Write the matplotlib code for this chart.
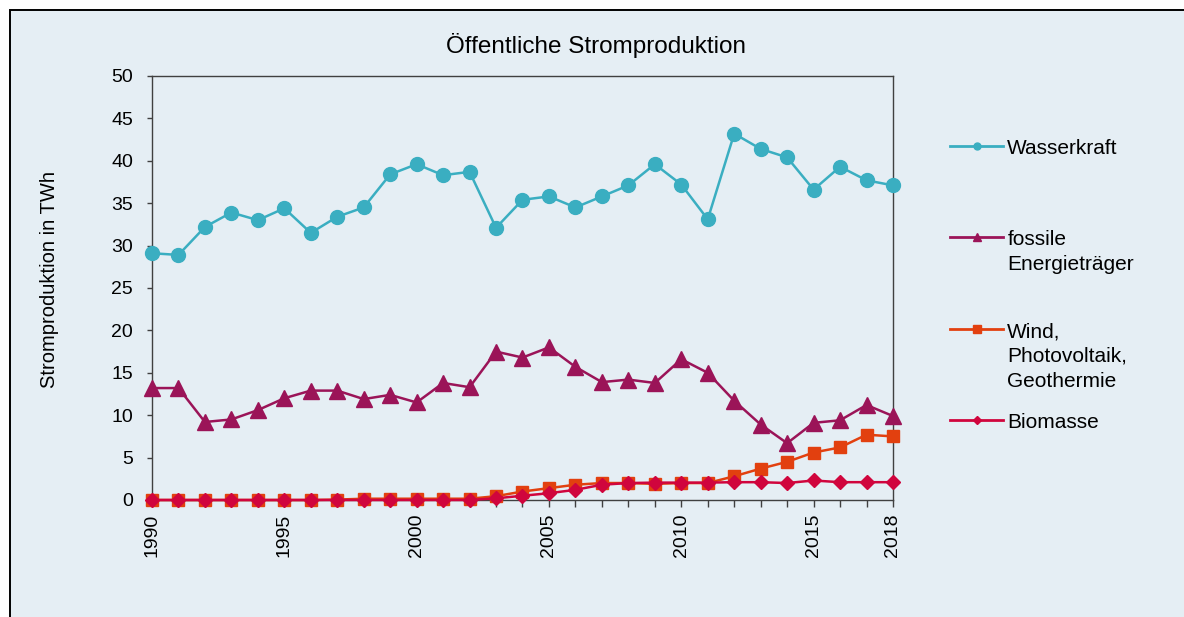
import matplotlib
matplotlib.use("Agg")
import matplotlib.pyplot as plt
from matplotlib.lines import Line2D
from matplotlib.patches import Rectangle

plt.rcParams['font.family'] = ['Liberation Sans', 'DejaVu Sans']

years = list(range(1990, 2019))
wasserkraft = [29.1, 28.9, 32.2, 33.9, 33.0, 34.4, 31.5, 33.4, 34.5, 38.4,
               39.6, 38.3, 38.7, 32.1, 35.4, 35.8, 34.5, 35.8, 37.1, 39.6,
               37.2, 33.1, 43.2, 41.4, 40.4, 36.6, 39.3, 37.7, 37.1]
fossil = [13.2, 13.2, 9.2, 9.5, 10.6, 12.0, 12.9, 12.9, 11.9, 12.4,
          11.5, 13.8, 13.3, 17.5, 16.8, 18.0, 15.7, 13.9, 14.2, 13.8,
          16.6, 15.0, 11.7, 8.9, 6.7, 9.1, 9.4, 11.2, 9.9]
wind = [0.0, 0.0, 0.0, 0.0, 0.0, 0.0, 0.0, 0.05, 0.15, 0.15,
        0.15, 0.15, 0.15, 0.45, 1.0, 1.4, 1.8, 2.0, 2.0, 1.9,
        2.0, 2.0, 2.8, 3.7, 4.5, 5.6, 6.2, 7.7, 7.5]
biomasse = [0.0, 0.0, 0.0, 0.0, 0.0, 0.0, 0.0, 0.0, 0.0, 0.0,
            0.0, 0.0, 0.0, 0.2, 0.5, 0.8, 1.2, 1.8, 2.0, 2.05,
            2.05, 2.05, 2.1, 2.1, 2.0, 2.3, 2.1, 2.1, 2.1]

labels = ['Wasserkraft', 'fossile\nEnergieträger',
          'Wind,\nPhotovoltaik,\nGeothermie', 'Biomasse']
colors = ['#3aaec1', '#9b1458', '#e2400f', '#d0053d']
markers = ['o', '^', 's', 'D']
sizes = [10, 11.5, 9, 6.8]
leg_sizes = [5, 6, 6, 4]
leg_tops = [139, 230, 322, 413]

bg = '#e5eef4'
fig = plt.figure(figsize=(11.84, 6.17), dpi=100, facecolor='white')
fig.patches.append(Rectangle((10 / 1184, -0.05), 1.1, 1.05 - 10 / 617,
                             transform=fig.transFigure, facecolor=bg,
                             edgecolor='black', linewidth=1.4, zorder=-5))

ax = fig.add_axes([152 / 1184, 1 - 500 / 617, (893 - 152) / 1184, (500 - 76) / 617])
ax.set_facecolor('none')

for vals, c, m, s in zip([wasserkraft, fossil, wind, biomasse], colors, markers, sizes):
    ax.plot(years, vals, color=c, marker=m, markersize=s, linewidth=1.8,
            clip_on=False, zorder=3)

ax.set_xlim(1990, 2018)
ax.set_ylim(0, 50)
ax.set_yticks(range(0, 51, 5))
ax.set_xticks([1990, 1995, 2000, 2005, 2010, 2015, 2018])
ax.set_xticks(years, minor=True)
ax.tick_params(axis='x', which='both', direction='out', length=5, width=1,
               color='#404040', pad=5, labelsize=14, labelrotation=90)
ax.tick_params(axis='y', direction='out', length=3.6, width=1,
               color='#404040', pad=10, labelsize=14)
for sp in ax.spines.values():
    sp.set_color('#404040')
    sp.set_linewidth(1.0)

ax.set_ylabel('Stromproduktion in TWh', fontsize=14.5)
ax.yaxis.set_label_coords(-0.126, 0.52)

fig.text(0.503, 1 - 46 / 617, 'Öffentliche Stromproduktion', fontsize=17.5,
         ha='center', va='center')

for lab, c, m, s, top in zip(labels, colors, markers, leg_sizes, leg_tops):
    h = Line2D([], [], color=c, marker=m, markersize=s, linewidth=2.0)
    leg = fig.legend(handles=[h], labels=[lab], loc='upper left',
                     bbox_to_anchor=(950 / 1184, 1 - top / 617), frameon=False,
                     fontsize=15, handlelength=2.55, handletextpad=0.2,
                     borderpad=0, borderaxespad=0, labelspacing=0)
    for t in leg.get_texts():
        t.set_linespacing(1.4)
    for col in leg._legend_handle_box.get_children():
        for item in col.get_children():
            item.align = 'top'

fig.savefig('out.png', dpi=100, facecolor=fig.get_facecolor())
